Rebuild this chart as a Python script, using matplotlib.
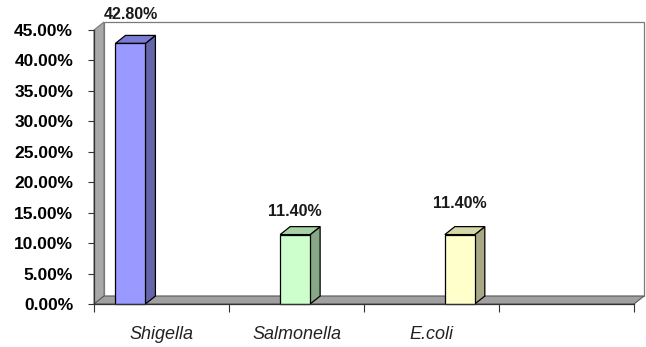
import numpy as np
import matplotlib
matplotlib.use("Agg")
import matplotlib.pyplot as plt
from matplotlib.patches import Polygon, Rectangle
from matplotlib.ticker import FuncFormatter

plt.rcParams["font.family"] = ["Liberation Sans", "DejaVu Sans"]

# Data
categories = ["Shigella", "Salmonella", "E.coli"]
values = [42.8, 11.4, 11.4]            # percent
value_labels = ["42.80%", "11.40%", "11.40%"]
y_ticks = [0, 5, 10, 15, 20, 25, 30, 35, 40, 45]

# Styling
front_colors = ["#9999ff", "#ccffcc", "#ffffcc"]
top_colors = ["#7b7bd6", "#a6d2a6", "#d6d6a6"]
side_colors = ["#6464a8", "#86a886", "#a8a886"]
label_lift_px = [30, 25, 33]

n_slots = 4                 # category slots on the axis (last one empty)
ymax = 45
dx, dy = 0.074, 1.31        # 3-D depth offset in data units
bar_w = 0.222
bar_x = 0.27 + 1.22 * np.arange(len(values))

fig = plt.figure(figsize=(6.46, 3.47), dpi=100)
ax = fig.add_axes([94 / 646, 43 / 347, 540 / 646, 274 / 347])
ax.set_xlim(0, n_slots)
ax.set_ylim(0, ymax)
ax.set_facecolor("none")

edge = "#7a7a7a"
# left side wall
ax.add_patch(Polygon([(0, 0), (0, ymax), (dx, ymax + dy), (dx, dy)],
                     closed=True, facecolor="#a8a8a8", edgecolor=edge,
                     lw=0.8, clip_on=False, zorder=1))
# back wall
ax.add_patch(Rectangle((dx, dy), n_slots, ymax, facecolor="white",
                       edgecolor=edge, lw=0.9, clip_on=False, zorder=0.9))
# floor
ax.add_patch(Polygon([(0, 0), (n_slots, 0), (n_slots + dx, dy), (dx, dy)],
                     closed=True, facecolor="#a0a0a0", edgecolor="#5a5a5a",
                     lw=0.8, clip_on=False, zorder=1.2))

# 3-D bars
for x, v, fc, tc, sc, lab, lift in zip(bar_x, values, front_colors, top_colors,
                                        side_colors, value_labels, label_lift_px):
    l, r = x - bar_w / 2, x + bar_w / 2
    ax.add_patch(Polygon([(r, 0), (r, v), (r + dx, v + dy), (r + dx, dy)],
                         closed=True, facecolor=sc, edgecolor="black",
                         lw=0.9, clip_on=False, zorder=2))
    ax.add_patch(Polygon([(l, v), (r, v), (r + dx, v + dy), (l + dx, v + dy)],
                         closed=True, facecolor=tc, edgecolor="black",
                         lw=0.9, clip_on=False, zorder=2))
    ax.add_patch(Rectangle((l, 0), bar_w, v, facecolor=fc, edgecolor="black",
                           lw=0.9, clip_on=False, zorder=3))
    ax.annotate(lab, xy=(x, v), xytext=(0, lift), textcoords="offset pixels",
                ha="center", va="center_baseline", fontsize=11.5,
                fontweight="bold", color="#1a1a1a", zorder=5,
                annotation_clip=False)

# axes styling
for s in ("top", "right"):
    ax.spines[s].set_visible(False)
for s in ("left", "bottom"):
    ax.spines[s].set_color("#333333")
    ax.spines[s].set_linewidth(0.9)
    ax.spines[s].set_zorder(4)

ax.set_yticks(y_ticks)
ax.yaxis.set_major_formatter(FuncFormatter(lambda v, _: f"{v:.2f}%"))
ax.tick_params(axis="y", direction="out", length=4, width=0.8, color="#333333",
               pad=11, labelsize=12.5)
for t in ax.get_yticklabels():
    t.set_fontweight("bold")
    t.set_verticalalignment("center_baseline")

ax.set_xticks(np.arange(n_slots + 1))
ax.set_xticklabels([])
ax.tick_params(axis="x", which="major", direction="out", length=6, width=0.8,
               color="#333333")
ax.set_xticks(np.arange(len(categories)) + 0.5, minor=True)
ax.set_xticklabels(categories, minor=True, fontstyle="italic", fontsize=13,
                   color="#222222")
ax.tick_params(axis="x", which="minor", length=0, pad=16)

fig.savefig("out.png", dpi=100, facecolor="white")
